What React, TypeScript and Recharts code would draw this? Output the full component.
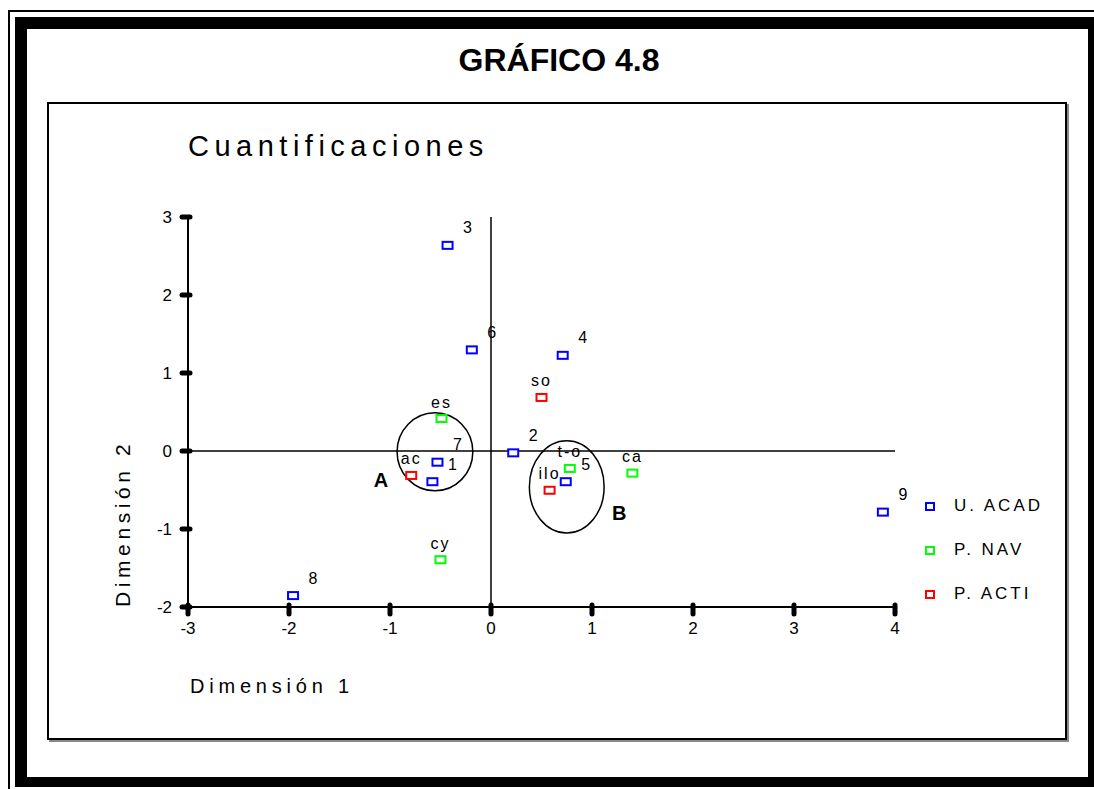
import React from 'react'
import { ScatterChart, Scatter, XAxis, YAxis, ReferenceLine, ReferenceArea, ReferenceDot, Legend } from 'recharts'

// U. ACAD (blue)
const acadNames = ['1', '2', '3', '4', '5', '6', '7', '8', '9']
const acadX = [-0.58, 0.22, -0.43, 0.71, 0.74, -0.19, -0.53, -1.96, 3.88]
const acadY = [-0.4, -0.03, 2.63, 1.22, -0.4, 1.29, -0.15, -1.86, -0.79]

// P. NAV (green)
const navNames = ['es', 't-o', 'ca', 'cy']
const navX = [-0.49, 0.78, 1.4, -0.5]
const navY = [0.41, -0.23, -0.29, -1.4]

// P. ACTI (red)
const actiNames = ['so', 'ac', 'ilo']
const actiX = [0.5, -0.79, 0.58]
const actiY = [0.68, -0.32, -0.51]

const xTicks = [-3, -2, -1, 0, 1, 2, 3, 4]
const yTicks = [-2, -1, 0, 1, 2, 3]

// hand drawn groupings (data units)
const groupNames = ['A', 'B']
const groupX1 = [-0.93, 0.38]
const groupX2 = [-0.18, 1.12]
const groupY1 = [-0.51, -1.05]
const groupY2 = [0.49, 0.13]
const groupLabelX = [-1.09, 1.27]
const groupLabelY = [-0.37, -0.79]

const FONT = '"Liberation Sans", Arial, sans-serif'

const zip = (names: string[], xs: number[], ys: number[]) =>
  names.map((name, i) => ({ name, x: xs[i], y: ys[i] }))

const series = [
  { name: 'U. ACAD', color: '#0000ff', data: zip(acadNames, acadX, acadY), numeric: true },
  { name: 'P. NAV', color: '#00ff00', data: zip(navNames, navX, navY), numeric: false },
  { name: 'P. ACTI', color: '#ff0000', data: zip(actiNames, actiX, actiY), numeric: false },
]

const makeShape = (color: string, numeric: boolean) => (props: any) => {
  const { cx, cy, payload } = props
  return (
    <g>
      <rect x={cx - 5} y={cy - 4} width={10} height={7} fill="white" stroke={color} strokeWidth={2} />
      <text
        x={numeric ? cx + 20 : cx}
        y={numeric ? cy - 18 : cy - 17}
        textAnchor="middle"
        dominantBaseline="central"
        fontFamily={FONT}
        fontSize={16}
        letterSpacing={numeric ? 0 : 2}
        fill="#000"
      >
        {payload.name}
      </text>
    </g>
  )
}

const YTick = (props: any) => {
  const { x, y, payload } = props
  return (
    <g>
      <line x1={x - 4} x2={x + 4} y1={y} y2={y} stroke="#000" strokeWidth={5} strokeLinecap="round" />
      <text x={x - 14} y={y} textAnchor="end" dominantBaseline="central" fontFamily={FONT} fontSize={17} fill="#000">
        {payload.value}
      </text>
    </g>
  )
}

const XTick = (props: any) => {
  const { x, y, payload } = props
  return (
    <g>
      <line x1={x} x2={x} y1={y - 4} y2={y + 5} stroke="#000" strokeWidth={5} strokeLinecap="round" />
      <text x={x} y={y + 19} textAnchor="middle" dominantBaseline="central" fontFamily={FONT} fontSize={17} fill="#000">
        {payload.value}
      </text>
    </g>
  )
}

const Ellipse = (props: any) => {
  const { x, y, width, height } = props
  return (
    <ellipse cx={x + width / 2} cy={y + height / 2} rx={width / 2} ry={height / 2} fill="none" stroke="#000" strokeWidth={1.5} />
  )
}

const groupLabel = (text: string) => (props: any) => (
  <text x={props.cx} y={props.cy} textAnchor="middle" dominantBaseline="central" fontFamily={FONT} fontWeight="bold" fontSize={20} fill="#000">
    {text}
  </text>
)

const LegendBox = () => (
  <div style={{ fontFamily: FONT, fontSize: 17, color: '#000' }}>
    {series.map((s) => (
      <div key={s.name} style={{ display: 'flex', alignItems: 'center', height: 44 }}>
        <span style={{ display: 'inline-block', width: 6, height: 5, border: `2px solid ${s.color}`, marginRight: 19 }} />
        <span style={{ letterSpacing: 3 }}>{s.name}</span>
      </div>
    ))}
  </div>
)

const line = (style: React.CSSProperties) => <div style={{ position: 'absolute', background: '#000', ...style }} />

export default function App() {
  return (
    <div style={{ position: 'fixed', left: 0, top: 0, width: 1094, height: 789, background: '#fff', overflow: 'hidden' }}>
      {/* outer frame */}
      {line({ left: 8, top: 10, width: 1086, height: 2 })}
      {line({ left: 8, top: 10, width: 2, height: 779 })}
      {line({ left: 15, top: 17, width: 1079, height: 12 })}
      {line({ left: 15, top: 17, width: 12, height: 770 })}
      {line({ left: 1088, top: 17, width: 6, height: 770 })}
      {line({ left: 15, top: 777, width: 1079, height: 10 })}
      {/* inner box */}
      <div style={{ position: 'absolute', left: 47, top: 102, width: 1016, height: 634, border: '2px solid #000', boxShadow: '2px 2px 0 #888' }} />
      <div
        style={{
          position: 'absolute', left: 0, top: 42, width: 1118, textAlign: 'center',
          fontFamily: FONT, fontWeight: 'bold', fontSize: 32, lineHeight: '36px',
        }}
      >
        GRÁFICO 4.8
      </div>
      <div style={{ position: 'absolute', left: 188, top: 128, fontFamily: FONT, fontSize: 29, letterSpacing: 5.5, lineHeight: '36px' }}>
        Cuantificaciones
      </div>
      <div style={{ position: 'absolute', left: 0, top: 0 }}>
        <ScatterChart width={1094} height={789} margin={{ top: 217, right: 199, bottom: 152, left: 148 }}>
          <XAxis
            type="number"
            dataKey="x"
            domain={[-3, 4]}
            ticks={xTicks}
            height={30}
            tickSize={0}
            tickLine={false}
            tick={<XTick />}
            axisLine={{ stroke: '#000', strokeWidth: 2 }}
            label={{
              content: (p: any) => (
                <text x={p.viewBox.x + 2} y={p.viewBox.y + 79} dominantBaseline="central" fontFamily={FONT} fontSize={20} letterSpacing={4.8} fill="#000">
                  Dimensión 1
                </text>
              ),
            }}
          />
          <YAxis
            type="number"
            dataKey="y"
            domain={[-2, 3]}
            ticks={yTicks}
            width={40}
            tickSize={0}
            tickLine={false}
            tick={<YTick />}
            axisLine={{ stroke: '#000', strokeWidth: 2 }}
            label={{
              content: (p: any) => {
                const lx = p.viewBox.x - 26
                const ly = p.viewBox.y + p.viewBox.height
                return (
                  <text x={lx} y={ly} transform={`rotate(-90 ${lx} ${ly})`} dominantBaseline="central" fontFamily={FONT} fontSize={21} letterSpacing={4.6} fill="#000">
                    Dimensión 2
                  </text>
                )
              },
            }}
          />
          <ReferenceLine x={0} stroke="#000" strokeWidth={1.5} />
          <ReferenceLine y={0} stroke="#000" strokeWidth={1.5} />
          {groupNames.map((g, i) => (
            <ReferenceArea key={g} x1={groupX1[i]} x2={groupX2[i]} y1={groupY1[i]} y2={groupY2[i]} shape={<Ellipse />} />
          ))}
          {groupNames.map((g, i) => (
            <ReferenceDot key={'l' + g} x={groupLabelX[i]} y={groupLabelY[i]} r={0} shape={groupLabel(g)} />
          ))}
          {series.map((s) => (
            <Scatter key={s.name} name={s.name} data={s.data} fill={s.color} shape={makeShape(s.color, s.numeric)} isAnimationActive={false} />
          ))}
          <Legend
            layout="vertical"
            align="center"
            verticalAlign="middle"
            content={() => <LegendBox />}
            wrapperStyle={{ position: 'absolute', left: 925, top: 484, width: 150 }}
          />
        </ScatterChart>
      </div>
    </div>
  )
}
